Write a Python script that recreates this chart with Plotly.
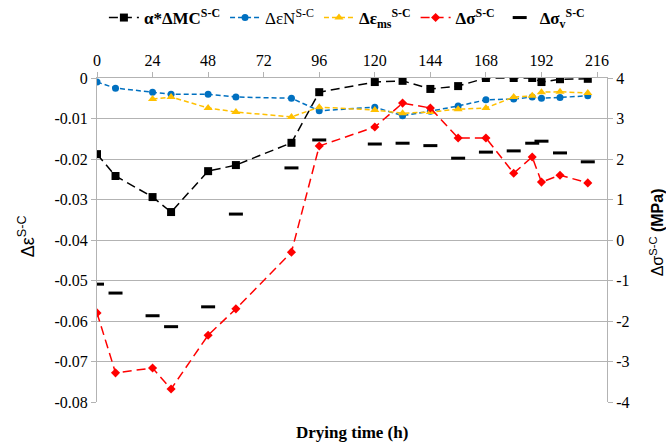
import plotly.graph_objects as go

# ---- data ----
times = [0, 8, 24, 32, 48, 60, 84, 96, 120, 132, 144, 156, 168, 180, 188, 192, 200, 212]
mc = [-0.0188, -0.0242, -0.0294, -0.0331, -0.0230, -0.0215, -0.0160, -0.0035, -0.0010,
      -0.0007, -0.0027, -0.0020, 0.0000, 0.0000, 0.0000, -0.0010, -0.0003, -0.0002]
eps_n = [-0.0010, -0.0025, -0.0035, -0.0040, -0.0040, -0.0047, -0.0050, -0.0081, -0.0072,
         -0.0093, -0.0082, -0.0069, -0.0054, -0.0052, -0.0047, -0.0050, -0.0048, -0.0044]
times_ms = [24, 32, 48, 60, 84, 96, 120, 132, 144, 156, 168, 180, 188, 192, 200, 212]
eps_ms = [-0.0052, -0.0047, -0.0074, -0.0084, -0.0096, -0.0072, -0.0079, -0.0087,
          -0.0084, -0.0077, -0.0074, -0.0047, -0.0044, -0.0035, -0.0034, -0.0037]
sigma = [-1.80, -3.28, -3.16, -3.68, -2.35, -1.70, -0.30, 2.32, 2.79, 3.38, 3.26,
         2.52, 2.52, 1.65, 2.05, 1.43, 1.60, 1.41]
sigma_v = [-1.09, -1.31, -1.87, -2.14, -1.65, 0.64, 1.78, 2.47, 2.37, 2.39, 2.33,
           2.02, 2.17, 2.20, 2.39, 2.44, 2.15, 1.93]

x_ticks = [0, 24, 48, 72, 96, 120, 144, 168, 192, 216]
y_ticks = [0, -0.01, -0.02, -0.03, -0.04, -0.05, -0.06, -0.07, -0.08]
y_ticktext = ["0", "-0.01", "-0.02", "-0.03", "-0.04", "-0.05", "-0.06", "-0.07", "-0.08"]
y2_ticks = [4, 3, 2, 1, 0, -1, -2, -3, -4]
y2_ticktext = ["4", "3", "2", "1", "0", "-1", "-2", "-3", "-4"]

SERIF = "Liberation Serif"
SANS = "Liberation Sans"
GRID = "#b3b3b3"

fig = go.Figure()
fig.add_trace(go.Scatter(
    x=times, y=mc, mode="lines+markers", name="<b>α*ΔMC<sup>S-C</sup></b>",
    line=dict(color="black", width=1.5, dash="9px,5px"),
    marker=dict(symbol="square", size=8, color="black")))
fig.add_trace(go.Scatter(
    x=times, y=eps_n, mode="lines+markers", name="ΔεN<sup>S-C</sup>",
    line=dict(color="#0070C0", width=1.5, dash="5px,3px"),
    marker=dict(symbol="circle", size=7, color="#0070C0")))
fig.add_trace(go.Scatter(
    x=times_ms, y=eps_ms, mode="lines+markers", name="<b>Δε<sub>ms</sub><sup>S-C</sup></b>",
    line=dict(color="#FFC000", width=1.5, dash="5px,3px"),
    marker=dict(symbol="triangle-up", size=8, color="#FFC000")))
fig.add_trace(go.Scatter(
    x=times, y=sigma, mode="lines+markers", name="<b>Δσ<sup>S-C</sup></b>", yaxis="y2",
    line=dict(color="#FF0000", width=1.5, dash="9px,5px"),
    marker=dict(symbol="diamond", size=7, color="#FF0000")))
fig.add_trace(go.Scatter(
    x=times, y=sigma_v, mode="markers", name="<b>Δσ<sub>v</sub><sup>S-C</sup></b>", yaxis="y2",
    marker=dict(symbol="line-ew", size=10, color="black",
                line=dict(color="black", width=3))))

fig.update_layout(
    width=666, height=446,
    margin=dict(l=97, r=59, t=78, b=44),
    paper_bgcolor="white", plot_bgcolor="white",
    font=dict(family=SERIF, size=16, color="black"),
    showlegend=True,
    legend=dict(orientation="h", x=0.49, xanchor="center", y=1.0, yref="container",
                yanchor="top", font=dict(family=SERIF, size=17, color="black"),
                itemwidth=30, tracegroupgap=0, bgcolor="rgba(0,0,0,0)"),
    xaxis=dict(side="top", range=[0, 220.3], tickvals=x_ticks, ticks="outside",
               ticklen=5, tickcolor=GRID, showgrid=False, zeroline=False,
               showline=True, linecolor=GRID, linewidth=1,
               tickfont=dict(family=SERIF, size=16, color="black")),
    yaxis=dict(range=[-0.08, 0], tickvals=y_ticks, ticktext=y_ticktext,
               ticks="outside", ticklen=5, tickcolor=GRID, showgrid=True,
               gridcolor=GRID, gridwidth=1, zeroline=False, showline=True,
               linecolor=GRID, linewidth=1,
               tickfont=dict(family=SERIF, size=16, color="black")),
    yaxis2=dict(range=[-4, 4], tickvals=y2_ticks, ticktext=y2_ticktext,
                overlaying="y", side="right", ticks="outside", ticklen=5,
                tickcolor=GRID, showgrid=False, zeroline=False, showline=True,
                linecolor=GRID, linewidth=1,
                tickfont=dict(family=SERIF, size=16, color="black")),
    annotations=[
        dict(text="Δε<sup>S-C</sup>", xref="paper", yref="paper", x=-0.139, y=0.512,
             textangle=-90, showarrow=False, xanchor="center", yanchor="middle",
             font=dict(family=SANS, size=18, color="black")),
        dict(text="Δσ<sup>S-C</sup> <b>(MPa)</b>",
             xref="paper", yref="paper", x=1.097, y=0.525,
             textangle=-90, showarrow=False, xanchor="center", yanchor="middle",
             font=dict(family=SANS, size=16, color="black")),
        dict(text="<b>Drying time (h)</b>", xref="paper", yref="paper", x=0.5, y=-0.093,
             showarrow=False, xanchor="center", yanchor="middle",
             font=dict(family=SERIF, size=17, color="black")),
    ],
)

fig.write_html("out.html")
